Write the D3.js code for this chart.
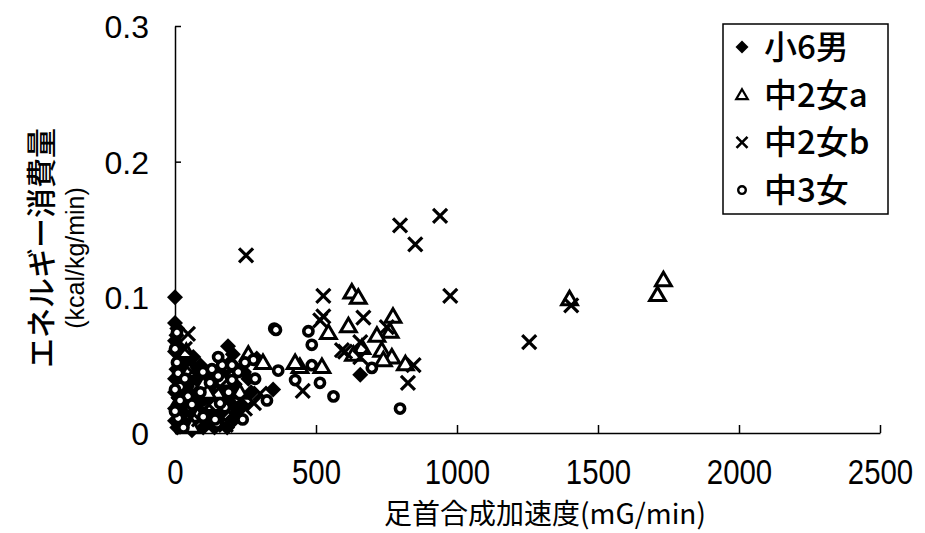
<!DOCTYPE html>
<html>
<head>
<meta charset="utf-8">
<script src="https://cdn.jsdelivr.net/npm/d3@7"></script>
<style>
  html, body { margin: 0; padding: 0; background: #fff; }
  svg { display: block; }
  text { fill: #000; }
</style>
</head>
<body>
<svg id="chart" width="925" height="533"></svg>
<script>
// Energy expenditure vs. ankle acceleration, four subject groups
const seriesNames = ["小6男", "中2女a", "中2女b", "中3女"];

// [acceleration (mG/min), energy (kcal/kg/min)]
const boys6 = [
  [0,0.100],[0,0.081],[8,0.077],[5,0.072],[0,0.068],[12,0.064],[0,0.060],[30,0.059],[22,0.055],
  [65,0.056],[48,0.050],[15,0.052],[5,0.047],[28,0.044],[40,0.045],[0,0.040],[18,0.036],
  [42,0.034],[55,0.038],[0,0.030],[25,0.030],[12,0.026],[32,0.022],[0,0.018],[50,0.016],
  [30,0.015],[20,0.013],[0,0.009],[38,0.007],[8,0.004],[60,0.002],[60,0.028],[70,0.048],
  [75,0.040],[80,0.030],[85,0.022],[90,0.050],[100,0.014],[100,0.004],[95,0.032],[105,0.025],
  [118,0.026],[125,0.042],[130,0.014],[135,0.018],[140,0.035],[140,0.004],[150,0.031],
  [160,0.045],[165,0.015],[170,0.025],[175,0.038],[180,0.030],[185,0.004],[188,0.064],
  [195,0.052],[205,0.058],[185,0.047],[215,0.048],[212,0.036],[198,0.022],[155,0.010],
  [210,0.010],[232,0.028],[240,0.020],[245,0.045],[120,0.008],[260,0.040],[270,0.030],
  [290,0.055],[348,0.032],[657,0.043],[110,0.040],[222,0.016],[70,0.010]
];
const girls2a = [
  [1732,0.113],[1711,0.102],[1399,0.099],[627,0.104],[650,0.100],[544,0.074],[615,0.079],
  [773,0.086],[763,0.075],[716,0.072],[663,0.063],[633,0.058],[733,0.061],[769,0.056],
  [739,0.054],[817,0.051],[521,0.049],[443,0.049],[312,0.052],[426,0.052],[167,0.050],
  [170,0.039],[149,0.030],[50,0.046],[100,0.036],[20,0.026],[135,0.021],[80,0.013],
  [115,0.030],[40,0.060],[230,0.030],[260,0.058],[60,0.005]
];
const girls2b = [
  [252,0.131],[798,0.153],[852,0.139],[940,0.160],[976,0.101],[1256,0.067],[1405,0.094],
  [526,0.101],[526,0.086],[515,0.083],[668,0.085],[751,0.078],[657,0.067],[592,0.061],
  [603,0.060],[657,0.056],[846,0.050],[826,0.037],[453,0.031],[46,0.073],[248,0.018],
  [302,0.029],[35,0.062],[120,0.021],[200,0.014],[85,0.010],[160,0.034],[230,0.024],
  [15,0.030],[60,0.045],[180,0.006],[280,0.022]
];
const girls3 = [
  [352,0.077],[358,0.076],[473,0.075],[485,0.065],[485,0.050],[514,0.037],[562,0.027],
  [798,0.018],[698,0.048],[366,0.046],[426,0.039],[326,0.024],[278,0.054],[284,0.040],
  [248,0.052],[224,0.045],[202,0.050],[167,0.050],[131,0.047],[99,0.045],[153,0.056],
  [153,0.042],[124,0.037],[202,0.039],[177,0.019],[160,0.022],[149,0.007],[142,0.010],
  [53,0.019],[46,0.027],[18,0.034],[18,0.024],[11,0.011],[7,0.074],[7,0.052],[11,0.044],
  [0,0.032],[0,0.062],[60,0.021],[90,0.030],[100,0.012],[35,0.040],[0,0.016],[30,0.004],
  [190,0.030],[240,0.010]
];

const xTicks = [0, 500, 1000, 1500, 2000, 2500];
const yTicks = [0, 0.1, 0.2, 0.3];
const xTitle = "足首合成加速度(mG/min)";
const yTitle1 = "エネルギー消費量";
const yTitle2 = "(kcal/kg/min)";

const svg = d3.select("#chart");
const x = d3.scaleLinear().domain([0, 2500]).range([175, 880]);
const y = d3.scaleLinear().domain([0, 0.3]).range([433, 26]);

// Axes: ticks point inward, no outer ticks
const gx = svg.append("g").attr("transform", `translate(0,${y(0)})`)
  .call(d3.axisBottom(x).tickValues(xTicks).tickSize(-8).tickSizeOuter(0).tickFormat(d3.format("d")));
gx.select(".domain").attr("stroke", "#000").attr("stroke-width", 1.5);
gx.selectAll(".tick line").attr("stroke", "#000").attr("stroke-width", 1.5);
// tall, condensed tick digits
gx.selectAll(".tick text")
  .attr("y", 51).attr("dy", 0)
  .style("font-family", "'Liberation Sans', Arial, sans-serif")
  .style("font-size", "35px")
  .each(function () {
    const w = this.getComputedTextLength();
    d3.select(this).attr("textLength", w * 0.84).attr("lengthAdjust", "spacingAndGlyphs");
  });

const gy = svg.append("g").attr("transform", `translate(${x(0)},0)`)
  .call(d3.axisLeft(y).tickValues(yTicks).tickSize(-6).tickSizeOuter(0)
    .tickFormat(d => d === 0 ? "0" : d3.format(".1f")(d)));
gy.select(".domain").attr("stroke", "#000").attr("stroke-width", 1.5);
gy.selectAll(".tick line").attr("stroke", "#000").attr("stroke-width", 1.5);
gy.selectAll(".tick text")
  .attr("x", -26).attr("dy", "0.36em")
  .style("font-family", "'Liberation Sans', Arial, sans-serif")
  .style("font-size", "32px");

// Axis titles
svg.append("text")
  .attr("x", 545).attr("y", 524)
  .attr("text-anchor", "middle")
  .style("font-family", "'Noto Sans CJK JP', sans-serif")
  .style("font-size", "28px")
  .text(xTitle);

svg.append("text")
  .attr("transform", "translate(52,248) rotate(-90)")
  .attr("text-anchor", "middle")
  .style("font-family", "'Noto Sans CJK JP', sans-serif")
  .style("font-size", "30px")
  .style("font-weight", 500)
  .text(yTitle1);
svg.append("text")
  .attr("transform", "translate(84,258) rotate(-90)")
  .attr("text-anchor", "middle")
  .style("font-family", "'Liberation Sans', Arial, sans-serif")
  .style("font-size", "25px")
  .text(yTitle2);

// Marker shapes
function diamondPath(s) { return `M0,${-s}L${s},0L0,${s}L${-s},0Z`; }
function trianglePath(s) { return `M0,${-s}L${s * 1.05},${s * 0.8}L${-s * 1.05},${s * 0.8}Z`; }
function crossPath(s) { return `M${-s},${-s}L${s},${s}M${s},${-s}L${-s},${s}`; }

const markers = [
  { data: boys6, size: 8,
    draw: (g, s) => g.append("path").attr("d", diamondPath(s)).attr("fill", "#000") },
  { data: girls2a, size: 7.5,
    draw: (g, s, w) => g.append("path").attr("d", trianglePath(s)).attr("fill", "#fff")
      .attr("stroke", "#000").attr("stroke-width", w || 3).attr("stroke-linejoin", "miter") },
  { data: girls2b, size: 7,
    draw: (g, s, w) => g.append("path").attr("d", crossPath(s)).attr("fill", "none")
      .attr("stroke", "#000").attr("stroke-width", w || 3.2) },
  { data: girls3, size: 4.6,
    draw: (g, s, w) => g.append("circle").attr("r", s).attr("fill", "#fff")
      .attr("stroke", "#000").attr("stroke-width", w || 3.6) }
];

const plot = svg.append("g");
markers.forEach(m => {
  plot.append("g").selectAll("g").data(m.data).join("g")
    .attr("transform", d => `translate(${x(d[0])},${y(d[1])})`)
    .each(function () { m.draw(d3.select(this), m.size); });
});

// Legend
const legend = svg.append("g");
legend.append("rect").attr("x", 723).attr("y", 24).attr("width", 165).attr("height", 190)
  .attr("fill", "#fff").attr("stroke", "#000").attr("stroke-width", 1.5);
const legendSizes = [6.5, 5.5, 5.5, 3.8];
const legendWidths = [0, 2.2, 2.6, 2.4];
seriesNames.forEach((name, i) => {
  const cy = 47 + i * 47.7;
  const g = legend.append("g").attr("transform", `translate(742,${cy})`);
  markers[i].draw(g, legendSizes[i], legendWidths[i]);
  legend.append("text")
    .attr("x", 764).attr("y", cy).attr("dy", "0.36em")
    .style("font-family", "'Noto Sans CJK JP', sans-serif")
    .style("font-size", "33px")
    .style("font-weight", 500)
    .text(name);
});
</script>
</body>
</html>
